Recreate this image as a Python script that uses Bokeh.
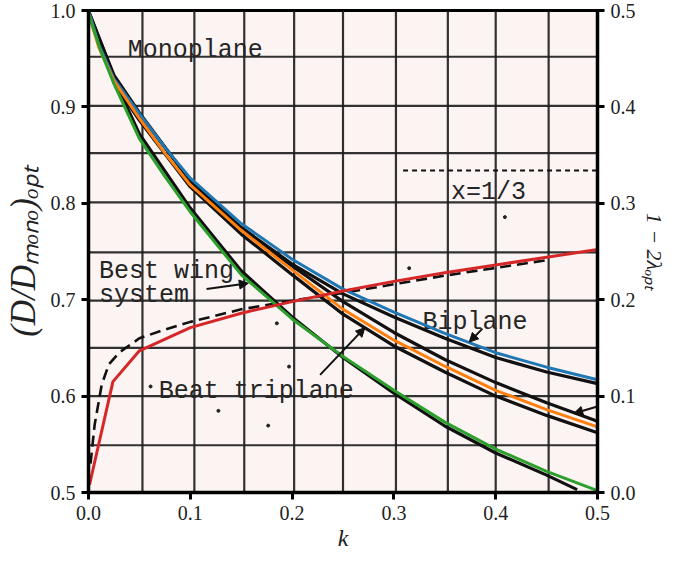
from bokeh.plotting import figure
from bokeh.models import (Range1d, LinearAxis, FixedTicker, PrintfTickFormatter,
                          Arrow, NormalHead)
from bokeh.core.properties import value
from bokeh.embed import file_html
from bokeh.resources import INLINE

# ---- scanned-grid positions ----
vgrid_k = [0.053, 0.104, 0.153, 0.202, 0.250, 0.302, 0.353, 0.400, 0.452]
hgrid_v = [0.952, 0.901, 0.852, 0.801, 0.749, 0.699, 0.650, 0.600, 0.549]

blue_k = [0, 0.01, 0.025, 0.05, 0.075, 0.1, 0.15, 0.2, 0.25, 0.3, 0.35, 0.4, 0.45, 0.5]
blue_v = [1.0, 0.965, 0.929, 0.893, 0.858, 0.826, 0.779, 0.742, 0.711, 0.687, 0.665, 0.645, 0.630, 0.617]

orange_k = [0, 0.01, 0.025, 0.05, 0.075, 0.1, 0.15, 0.2, 0.25, 0.3, 0.35, 0.4, 0.45, 0.5]
orange_v = [0.997, 0.962, 0.927, 0.888, 0.852, 0.819, 0.772, 0.731, 0.690, 0.658, 0.631, 0.606, 0.586, 0.568]

green_k = [0, 0.012, 0.025, 0.05, 0.075, 0.1, 0.15, 0.2, 0.25, 0.3, 0.35, 0.4, 0.45, 0.5]
green_v = [0.997, 0.958, 0.924, 0.867, 0.828, 0.791, 0.726, 0.680, 0.641, 0.606, 0.573, 0.545, 0.522, 0.502]

red_k = [0.001, 0.024, 0.05, 0.1, 0.15, 0.2, 0.25, 0.3, 0.35, 0.4, 0.45, 0.5]
red_v = [0.008, 0.115, 0.147, 0.171, 0.186, 0.198, 0.209, 0.219, 0.228, 0.236, 0.244, 0.252]

# ---- original (scanned) black curves ----
dash_k = [0.002, 0.006, 0.013, 0.02, 0.03, 0.05, 0.075, 0.1, 0.15, 0.2, 0.25, 0.3, 0.35, 0.4, 0.45]
dash_v = [0.03, 0.07, 0.112, 0.133, 0.145, 0.160, 0.169, 0.177, 0.190, 0.199, 0.207, 0.216, 0.225, 0.233, 0.241]

bi_k = [0, 0.025, 0.05, 0.1, 0.15, 0.2, 0.25, 0.3, 0.35, 0.4, 0.45, 0.5]
bi_v = [1.0, 0.931, 0.892, 0.824, 0.775, 0.737, 0.706, 0.682, 0.660, 0.640, 0.625, 0.613]

xa_k = [0, 0.025, 0.05, 0.1, 0.15, 0.2, 0.25, 0.3, 0.35, 0.4, 0.45, 0.5]
xa_v = [0.999, 0.933, 0.894, 0.823, 0.774, 0.735, 0.698, 0.666, 0.638, 0.614, 0.593, 0.574]

bw_k = [0, 0.025, 0.05, 0.1, 0.15, 0.2, 0.25, 0.3, 0.35, 0.4, 0.45, 0.5]
bw_v = [0.997, 0.925, 0.886, 0.817, 0.768, 0.726, 0.685, 0.652, 0.625, 0.600, 0.580, 0.562]

tr_k = [0, 0.025, 0.05, 0.1, 0.15, 0.2, 0.25, 0.3, 0.35, 0.4, 0.45, 0.48]
tr_v = [0.997, 0.929, 0.872, 0.795, 0.730, 0.682, 0.640, 0.603, 0.569, 0.541, 0.518, 0.503]

legend_dash_k = [0.309, 0.5]
legend_dash_v = [0.834, 0.834]

speck_k = [0.1276, 0.1765, 0.197, 0.409, 0.315, 0.185, 0.061]
speck_v = [0.5847, 0.5694, 0.6306, 0.7857, 0.7327, 0.6755, 0.610]

# ---- annotations of the scan ----
note_text = ["Monoplane", "x=1/3", "Best wing", "system", "Biplane", "Beat triplane"]
note_k = [0.0386, 0.356, 0.0103, 0.0103, 0.328, 0.0689]
note_v = [0.959, 0.811, 0.7296, 0.704, 0.6765, 0.605]

arrow_x0 = [0.116, 0.387, 0.2275, 0.499]
arrow_y0 = [0.711, 0.670, 0.622, 0.589]
arrow_x1 = [0.157, 0.374, 0.2715, 0.4766]
arrow_y1 = [0.717, 0.656, 0.671, 0.582]

x_ticks = [0.0, 0.1, 0.2, 0.3, 0.4, 0.5]
yl_ticks = [0.5, 0.6, 0.7, 0.8, 0.9, 1.0]
yr_ticks = [0.0, 0.1, 0.2, 0.3, 0.4, 0.5]

p = figure(width=669, height=553, x_range=Range1d(0, 0.5), y_range=Range1d(0.5, 1.0),
           output_backend="svg", toolbar_location=None,
           min_border_left=88, min_border_right=70, min_border_top=10, min_border_bottom=59,
           background_fill_color="#fcf4f3", border_fill_color="white")
p.outline_line_color = "black"
p.outline_line_width = 3
p.grid.visible = False
p.extra_y_ranges = {"r": Range1d(0, 0.5)}
p.add_layout(LinearAxis(y_range_name="r"), "right")

p.xaxis.ticker = FixedTicker(ticks=x_ticks)
p.yaxis[0].ticker = FixedTicker(ticks=yl_ticks)
p.yaxis[1].ticker = FixedTicker(ticks=yr_ticks)
for ax in p.axis:
    ax.formatter = PrintfTickFormatter(format="%.1f")
    ax.axis_line_width = 3.5
    ax.axis_line_color = "black"
    ax.major_tick_line_width = 3
    ax.major_tick_line_color = "black"
    ax.major_tick_out = 7
    ax.major_tick_in = 0
    ax.minor_tick_line_color = None
    ax.major_label_text_font = "Liberation Serif"
    ax.major_label_text_font_size = "20px"
    ax.major_label_text_color = "#222222"
    ax.major_label_standoff = 6
    ax.axis_label_text_font = "Liberation Serif"
    ax.axis_label_text_font_style = "italic"
    ax.axis_label_text_color = "#222222"

p.xaxis.axis_label = "k"
p.xaxis.axis_label_text_font_size = "24px"
p.xaxis.axis_label_standoff = 2
p.yaxis[0].axis_label = "(D/Dₘₒₙₒ)ₒₚₜ"
p.yaxis[0].axis_label_text_font_size = "35px"
p.yaxis[0].axis_label_standoff = 5
p.yaxis[1].axis_label = "1 − 2λₒₚₜ"
p.yaxis[1].axis_label_text_font_size = "22px"
p.yaxis[1].axis_label_standoff = 3

# scanned grid
p.segment(x0=vgrid_k, y0=[0.5] * len(vgrid_k), x1=vgrid_k, y1=[1.0] * len(vgrid_k),
          line_color="#1c1c1c", line_width=2.2, line_alpha=0.9)
p.segment(x0=[0.0] * len(hgrid_v), y0=hgrid_v, x1=[0.5] * len(hgrid_v), y1=hgrid_v,
          line_color="#1c1c1c", line_width=2.2, line_alpha=0.9)
p.scatter(speck_k, speck_v, size=3, color="#222222")

# scanned black curves
for kk, vv in [(bi_k, bi_v), (xa_k, xa_v), (bw_k, bw_v), (tr_k, tr_v)]:
    p.line(kk, vv, line_color="#111111", line_width=3.2)
p.line(dash_k, dash_v, y_range_name="r", line_color="#111111", line_width=2.6, line_dash="11 6")
p.line(legend_dash_k, legend_dash_v, line_color="#111111", line_width=2, line_dash="5 4")

# scanned typewriter notes
p.text(x=note_k, y=note_v, text=note_text, text_font=value("Liberation Mono"),
       text_font_size=value("25px"), text_color="#252525", text_align="left",
       text_baseline="alphabetic")
for i in range(len(arrow_x0)):
    p.add_layout(Arrow(end=NormalHead(size=9, fill_color="#111111", line_color="#111111"),
                       x_start=arrow_x0[i], y_start=arrow_y0[i],
                       x_end=arrow_x1[i], y_end=arrow_y1[i],
                       line_color="#111111", line_width=2))

p.line(blue_k, blue_v, line_color="#1f77b4", line_width=3)
p.line(orange_k, orange_v, line_color="#ff7f0e", line_width=3)
p.line(green_k, green_v, line_color="#2ca02c", line_width=3)
p.line(red_k, red_v, y_range_name="r", line_color="#d62728", line_width=3)

open("out.html", "w").write(file_html(p, INLINE))
